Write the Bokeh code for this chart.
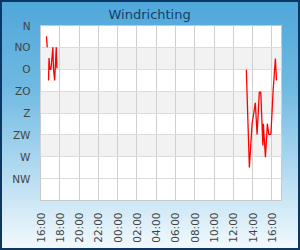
import pandas as pd
from math import pi
from bokeh.plotting import figure
from bokeh.models import Range1d, FixedTicker, DatetimeTickFormatter, ColumnDataSource, BoxAnnotation
from bokeh.embed import file_html
from bokeh.resources import INLINE

title_text = "Windrichting"
direction_labels = ["N", "NO", "O", "ZO", "Z", "ZW", "W", "NW"]
direction_degrees = [0, 45, 90, 135, 180, 225, 270, 315]
band_ranges = [(45, 90), (135, 180), (225, 270)]

times = [
    "2024-05-01 16:37", "2024-05-01 16:42", "2024-05-01 16:45",
    "2024-05-01 16:50", "2024-05-01 16:53", "2024-05-01 16:58", "2024-05-01 17:05",
    "2024-05-01 17:17", "2024-05-01 17:21", "2024-05-01 17:28", "2024-05-01 17:38",
    "2024-05-01 17:42", "2024-05-01 18:00",
    "2024-05-02 13:21", "2024-05-02 13:40", "2024-05-02 13:57", "2024-05-02 14:07",
    "2024-05-02 14:17", "2024-05-02 14:28", "2024-05-02 14:42", "2024-05-02 14:51",
    "2024-05-02 15:04", "2024-05-02 15:07", "2024-05-02 15:20", "2024-05-02 15:32",
    "2024-05-02 15:41", "2024-05-02 15:54", "2024-05-02 16:08", "2024-05-02 16:22",
    "2024-05-02 16:29",
]
nan = float("nan")
degrees = [
    22, 45, nan,
    113, 67, 90, 90,
    45, 90, 113, 45,
    88, nan,
    91, 292, 202, 181,
    159, 224, 137, 137,
    247, 202, 271, 202,
    224, 224, 133, 68,
    113,
]

x_start = "2024-05-01 16:00"
x_end = "2024-05-02 17:00"
tick_start = "2024-05-01 16:00"
tick_end = "2024-05-02 16:00"

t = pd.to_datetime(times)
src = ColumnDataSource(data=dict(t=t, d=degrees))

p = figure(
    width=300, height=250, output_backend="svg", toolbar_location=None,
    x_range=Range1d(pd.Timestamp(x_start), pd.Timestamp(x_end)),
    y_range=Range1d(360, 0),
    min_border_left=40, min_border_right=19, min_border_top=25, min_border_bottom=50,
    border_fill_color=None, background_fill_color="white",
    styles={
        "background-image": "linear-gradient(to bottom, #4fa7da 0%, #6fb9e2 35%, #a6d4ee 62%, #f4fafd 100%)",
        "box-shadow": "inset 0 0 0 2px #0c3763",
    },
)

p.title.text = title_text
p.title.align = "left"
p.title.offset = 68
p.title.text_font = "DejaVu Sans"
p.title.text_font_size = "13px"
p.title.text_font_style = "normal"
p.title.text_color = "#133f6b"
p.title.standoff = 8

for lo, hi in band_ranges:
    p.add_layout(BoxAnnotation(bottom=lo, top=hi, fill_color="#f2f2f2", fill_alpha=1.0,
                               line_color=None, level="image"))

p.line("t", "d", source=src, line_color="#ff0000", line_width=1.3)

p.outline_line_color = "#c8c8c8"
p.outline_line_width = 1

ticks_ms = [ts.value / 1e6 for ts in pd.date_range(tick_start, tick_end, freq="2h")]
p.xaxis.ticker = FixedTicker(ticks=ticks_ms)
p.xaxis.formatter = DatetimeTickFormatter(hours="%H:%M", days="%H:%M", hourmin="%H:%M")
p.xaxis.major_label_orientation = pi / 2
p.xaxis.major_label_standoff = 12

p.yaxis.ticker = FixedTicker(ticks=direction_degrees)
p.yaxis.major_label_overrides = {d: l for d, l in zip(direction_degrees, direction_labels)}
p.yaxis.major_label_standoff = 10

for ax in (p.xaxis, p.yaxis):
    ax.axis_line_color = None
    ax.major_tick_line_color = None
    ax.minor_tick_line_color = None
    ax.major_tick_out = 0
    ax.major_tick_in = 0
    ax.major_label_text_font = "DejaVu Sans"
    ax.major_label_text_font_size = "10.5px"
    ax.major_label_text_color = "#444444"

p.xgrid.grid_line_color = "#cfcfcf"
p.ygrid.grid_line_color = "#dcdcdc"
p.ygrid.level = "underlay"
p.xgrid.level = "underlay"

open("out.html", "w").write(file_html(p, INLINE))
